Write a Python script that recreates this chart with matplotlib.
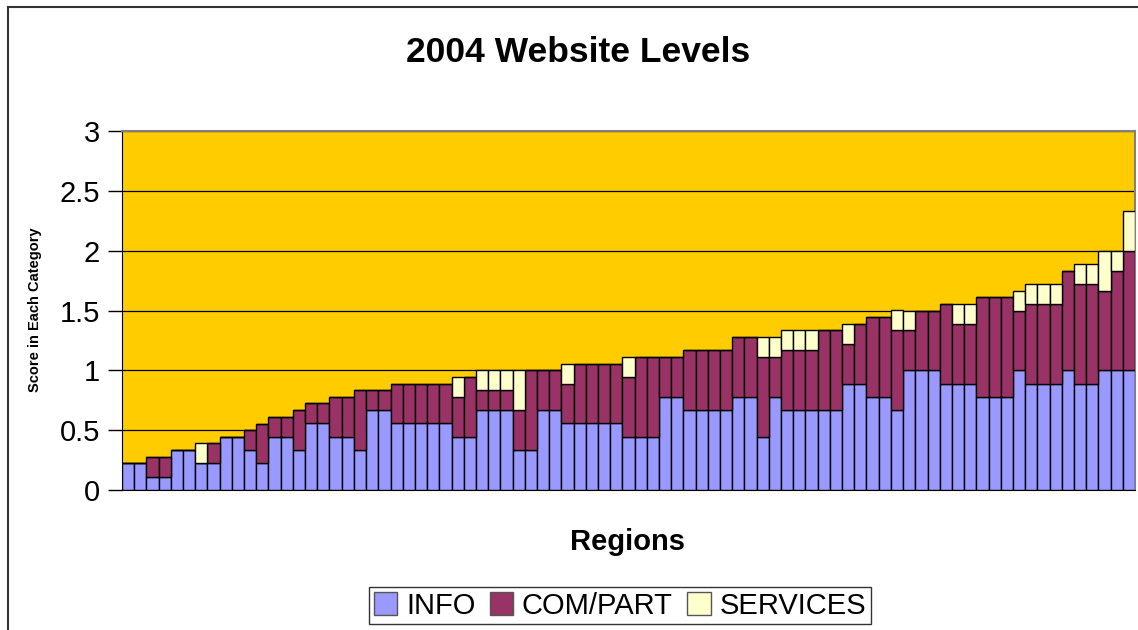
import matplotlib.pyplot as plt
from matplotlib.lines import Line2D

plt.rcParams['font.family'] = ['Liberation Sans', 'DejaVu Sans']

# scores per region (83 regions, sorted by total)
info = [0.222, 0.222, 0.111, 0.111, 0.333, 0.333, 0.222, 0.222, 0.444, 0.444,
        0.333, 0.222, 0.444, 0.444, 0.333, 0.556, 0.556, 0.444, 0.444, 0.333,
        0.667, 0.667, 0.556, 0.556, 0.556, 0.556, 0.556, 0.444, 0.444, 0.667,
        0.667, 0.667, 0.333, 0.333, 0.667, 0.667, 0.556, 0.556, 0.556, 0.556,
        0.556, 0.444, 0.444, 0.444, 0.778, 0.778, 0.667, 0.667, 0.667, 0.667,
        0.778, 0.778, 0.444, 0.778, 0.667, 0.667, 0.667, 0.667, 0.667, 0.889,
        0.889, 0.778, 0.778, 0.667, 1.0, 1.0, 1.0, 0.889, 0.889, 0.889,
        0.778, 0.778, 0.778, 1.0, 0.889, 0.889, 0.889, 1.0, 0.889, 0.889,
        1.0, 1.0, 1.0]
com_part = [0, 0, 0.167, 0.167, 0, 0, 0, 0.167, 0, 0,
            0.167, 0.333, 0.167, 0.167, 0.333, 0.167, 0.167, 0.333, 0.333, 0.5,
            0.167, 0.167, 0.333, 0.333, 0.333, 0.333, 0.333, 0.333, 0.5, 0.167,
            0.167, 0.167, 0.333, 0.667, 0.333, 0.333, 0.333, 0.5, 0.5, 0.5,
            0.5, 0.5, 0.667, 0.667, 0.333, 0.333, 0.5, 0.5, 0.5, 0.5,
            0.5, 0.5, 0.667, 0.333, 0.5, 0.5, 0.5, 0.667, 0.667, 0.333,
            0.5, 0.667, 0.667, 0.667, 0.333, 0.5, 0.5, 0.667, 0.5, 0.5,
            0.833, 0.833, 0.833, 0.5, 0.667, 0.667, 0.667, 0.833, 0.833, 0.833,
            0.667, 0.833, 1.0]
services = [0, 0, 0, 0, 0, 0, 0.167, 0, 0, 0,
            0, 0, 0, 0, 0, 0, 0, 0, 0, 0,
            0, 0, 0, 0, 0, 0, 0, 0.167, 0, 0.167,
            0.167, 0.167, 0.333, 0, 0, 0, 0.167, 0, 0, 0,
            0, 0.167, 0, 0, 0, 0, 0, 0, 0, 0,
            0, 0, 0.167, 0.167, 0.167, 0.167, 0.167, 0, 0, 0.167,
            0, 0, 0, 0.167, 0.167, 0, 0, 0, 0.167, 0.167,
            0, 0, 0, 0.167, 0.167, 0.167, 0.167, 0, 0.167, 0.167,
            0.333, 0.167, 0.333]

x = list(range(len(info)))
base2 = [a + b for a, b in zip(info, com_part)]

fig = plt.figure(figsize=(11.38, 6.30), dpi=100)
ax = fig.add_axes([122 / 1138, 1 - 490 / 630, 1013 / 1138, 359 / 630])
ax.set_facecolor('#FFCC00')

ax.bar(x, info, width=1.0, color='#9999FF', edgecolor='black', linewidth=1, label='INFO', zorder=3)
ax.bar(x, com_part, width=1.0, bottom=info, color='#993366', edgecolor='black', linewidth=1,
       label='COM/PART', zorder=3)
ax.bar(x, services, width=1.0, bottom=base2, color='#FFFFCC', edgecolor='black', linewidth=1,
       label='SERVICES', zorder=3)

ax.set_xlim(-0.5, len(info) - 0.5)
ax.set_ylim(0, 3)
ax.set_yticks([0, 0.5, 1, 1.5, 2, 2.5, 3])
ax.set_yticklabels(['0', '0.5', '1', '1.5', '2', '2.5', '3'], fontsize=21)
ax.yaxis.grid(True, color='black', linewidth=0.9, zorder=1)
ax.set_axisbelow(True)
ax.set_xticks([])
ax.tick_params(axis='y', direction='out', length=10, width=1, pad=6)

for side in ['top', 'right']:
    ax.spines[side].set_color('#808080')
    ax.spines[side].set_linewidth(1.5)
ax.spines['left'].set_color('black')
ax.spines['bottom'].set_color('black')

fig.text(578 / 1138, 1 - 52 / 630, '2004 Website Levels', fontsize=25.5, fontweight='bold',
         ha='center', va='center')
fig.text(628 / 1138, 1 - 542 / 630, 'Regions', fontsize=21, fontweight='bold',
         ha='center', va='center')
fig.text(35 / 1138, 1 - 310 / 630, 'Score in Each Category', fontsize=10.5, fontweight='bold',
         rotation=90, ha='center', va='center')

leg = fig.legend(loc='center', bbox_to_anchor=(620 / 1138, 1 - 605.5 / 630), ncol=3,
                 fontsize=21, frameon=True, fancybox=False, edgecolor='black',
                 handlelength=0.8, handleheight=0.8, handletextpad=0.3, columnspacing=0.5,
                 borderpad=0.15, borderaxespad=0)
leg.get_frame().set_linewidth(1)
for h in leg.legend_handles:
    h.set_edgecolor('#555555')

# chart area border (top and left visible)
fig.add_artist(Line2D([8 / 1138, 8 / 1138], [0, 1 - 7 / 630], color='#333333', linewidth=1.5))
fig.add_artist(Line2D([8 / 1138, 1], [1 - 7 / 630, 1 - 7 / 630], color='#333333', linewidth=1.5))

fig.savefig('out.png', dpi=100)
